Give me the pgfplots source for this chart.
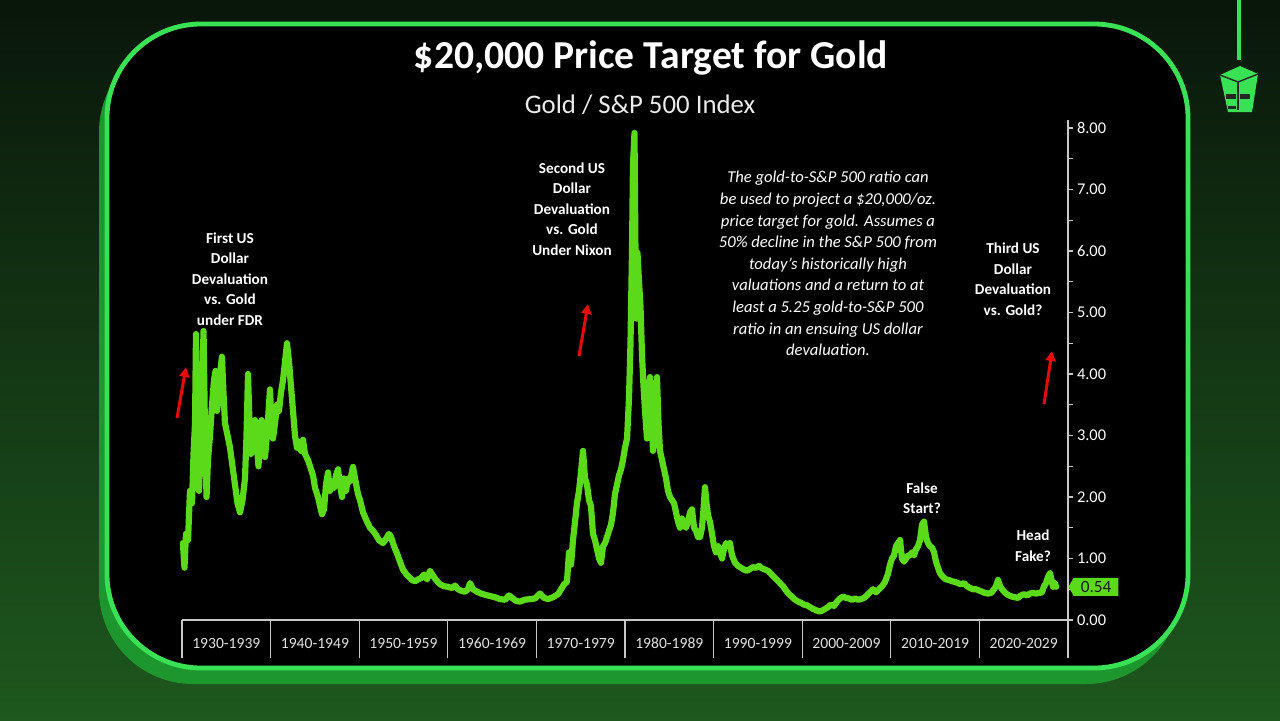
\documentclass[border=0pt]{standalone}
\usepackage{fontspec}
\setmainfont{Carlito}
\usepackage{pgfplots}
\pgfplotsset{compat=1.18}
\usepackage{pgfplotstable}
\usetikzlibrary{arrows.meta,shapes.symbols}

\definecolor{bgtop}{RGB}{9,22,10}
\definecolor{bgbot}{RGB}{30,88,30}
\definecolor{framegreen}{RGB}{57,226,84}
\definecolor{shadowgreen}{RGB}{30,150,46}
\definecolor{linegreen}{RGB}{90,218,24}
\definecolor{axisgray}{RGB}{200,200,200}
\definecolor{labelgray}{RGB}{225,225,225}
\definecolor{arrowred}{RGB}{230,10,10}

\pgfplotstableread{
year val
1930.10 1.25
1930.28 0.85
1930.45 1.40
1930.68 1.30
1930.90 2.10
1931.13 1.90
1931.30 2.70
1931.47 3.20
1931.58 4.65
1931.75 2.40
1931.92 2.10
1932.09 3.00
1932.26 3.60
1932.43 4.70
1932.60 3.00
1932.77 2.00
1932.93 2.60
1933.16 3.00
1933.39 3.50
1933.61 3.90
1933.78 4.05
1933.95 3.40
1934.12 3.60
1934.29 4.00
1934.51 4.28
1934.68 3.70
1934.85 3.20
1935.14 3.00
1935.42 2.80
1935.70 2.50
1935.98 2.20
1936.26 1.90
1936.55 1.75
1936.83 1.95
1937.11 2.30
1937.28 3.00
1937.45 4.00
1937.62 3.20
1937.79 2.70
1938.01 3.00
1938.24 3.25
1938.47 2.80
1938.63 2.50
1938.80 2.90
1938.97 3.25
1939.14 2.90
1939.37 2.65
1939.59 3.00
1939.82 3.50
1939.93 3.75
1940.10 3.20
1940.27 2.95
1940.50 3.20
1940.72 3.50
1940.95 3.40
1941.17 3.70
1941.40 3.90
1941.63 4.20
1941.85 4.50
1942.08 4.20
1942.30 3.80
1942.53 3.40
1942.75 3.00
1942.98 2.80
1943.21 2.90
1943.43 2.75
1943.66 2.93
1943.88 2.70
1944.22 2.60
1944.45 2.50
1944.79 2.35
1945.01 2.15
1945.35 2.00
1945.58 1.85
1945.80 1.72
1946.03 1.80
1946.25 2.20
1946.48 2.40
1946.70 2.10
1946.93 2.25
1947.16 2.15
1947.38 2.35
1947.61 2.45
1947.83 2.20
1948.06 2.00
1948.28 2.30
1948.51 2.10
1948.74 2.30
1948.96 2.25
1949.30 2.49
1949.53 2.30
1949.86 2.05
1950.09 1.95
1950.43 1.75
1950.88 1.60
1951.22 1.50
1951.56 1.45
1951.90 1.38
1952.23 1.30
1952.69 1.25
1953.02 1.32
1953.36 1.40
1953.59 1.35
1953.93 1.20
1954.27 1.08
1954.60 0.95
1954.94 0.82
1955.28 0.75
1955.62 0.70
1955.96 0.65
1956.30 0.63
1956.64 0.66
1956.98 0.68
1957.31 0.74
1957.65 0.66
1957.99 0.80
1958.33 0.72
1958.67 0.65
1959.12 0.58
1959.57 0.55
1960.02 0.54
1960.47 0.52
1960.81 0.56
1961.15 0.50
1961.60 0.47
1961.94 0.46
1962.28 0.50
1962.51 0.60
1962.84 0.50
1963.30 0.46
1963.75 0.43
1964.20 0.41
1964.76 0.39
1965.33 0.37
1965.89 0.34
1966.46 0.33
1966.91 0.40
1967.25 0.36
1967.70 0.31
1968.15 0.30
1968.71 0.33
1969.28 0.34
1969.84 0.35
1970.41 0.43
1970.86 0.36
1971.31 0.34
1971.87 0.37
1972.44 0.42
1972.78 0.50
1973.12 0.58
1973.45 0.62
1973.68 1.10
1973.91 0.90
1974.13 1.30
1974.36 1.60
1974.58 1.90
1974.81 2.10
1975.03 2.40
1975.26 2.75
1975.49 2.30
1975.71 2.20
1975.94 1.95
1976.16 1.85
1976.39 1.40
1976.61 1.30
1976.84 1.15
1977.07 1.00
1977.29 0.93
1977.52 1.20
1977.74 1.25
1977.97 1.35
1978.19 1.45
1978.42 1.55
1978.65 1.75
1978.87 2.05
1979.10 2.20
1979.32 2.35
1979.55 2.45
1979.77 2.60
1980.00 2.80
1980.23 2.95
1980.45 3.60
1980.62 4.50
1980.79 6.00
1980.90 7.40
1981.07 7.92
1981.18 6.00
1981.30 4.90
1981.41 5.97
1981.58 5.50
1981.75 5.10
1981.92 4.30
1982.09 3.80
1982.26 3.40
1982.48 2.95
1982.65 3.50
1982.82 3.95
1982.99 3.40
1983.16 2.75
1983.39 3.20
1983.61 3.95
1983.78 3.20
1983.95 2.75
1984.18 2.60
1984.40 2.45
1984.63 2.30
1984.85 2.10
1985.08 2.00
1985.30 1.95
1985.53 1.90
1985.76 1.75
1985.98 1.60
1986.21 1.50
1986.43 1.65
1986.66 1.55
1986.88 1.50
1987.11 1.60
1987.34 1.75
1987.56 1.80
1987.79 1.50
1988.01 1.45
1988.24 1.35
1988.47 1.35
1988.69 1.50
1988.86 1.80
1989.03 2.16
1989.20 1.90
1989.37 1.70
1989.59 1.60
1989.82 1.40
1990.05 1.20
1990.27 1.10
1990.50 1.20
1990.72 1.10
1990.95 1.00
1991.17 1.15
1991.40 1.25
1991.63 1.20
1991.85 1.25
1992.08 1.05
1992.42 0.93
1992.75 0.88
1993.09 0.85
1993.43 0.82
1993.77 0.80
1994.11 0.83
1994.45 0.86
1994.79 0.85
1995.12 0.88
1995.46 0.84
1995.80 0.82
1996.14 0.80
1996.48 0.75
1996.82 0.70
1997.16 0.65
1997.49 0.60
1997.83 0.55
1998.17 0.48
1998.51 0.42
1998.85 0.38
1999.19 0.33
1999.53 0.30
1999.86 0.28
2000.20 0.25
2000.54 0.24
2000.88 0.21
2001.22 0.18
2001.56 0.16
2001.90 0.14
2002.23 0.15
2002.57 0.18
2002.91 0.21
2003.25 0.25
2003.59 0.23
2003.93 0.30
2004.27 0.35
2004.60 0.38
2004.94 0.36
2005.28 0.35
2005.62 0.33
2005.96 0.35
2006.30 0.33
2006.64 0.34
2006.98 0.36
2007.31 0.40
2007.65 0.45
2007.99 0.50
2008.33 0.45
2008.67 0.50
2009.01 0.55
2009.35 0.62
2009.68 0.75
2009.91 0.90
2010.14 1.00
2010.36 1.05
2010.59 1.20
2010.81 1.25
2011.04 1.30
2011.26 1.00
2011.49 0.95
2011.72 1.00
2011.94 1.05
2012.17 1.05
2012.39 1.10
2012.62 1.05
2012.84 1.15
2013.07 1.20
2013.30 1.30
2013.52 1.55
2013.75 1.60
2013.97 1.35
2014.20 1.25
2014.42 1.20
2014.65 1.18
2014.88 1.10
2015.10 0.95
2015.33 0.85
2015.55 0.76
2015.89 0.70
2016.23 0.66
2016.57 0.65
2016.91 0.63
2017.25 0.62
2017.58 0.60
2017.92 0.58
2018.26 0.60
2018.60 0.55
2018.94 0.52
2019.28 0.50
2019.62 0.50
2019.95 0.48
2020.29 0.46
2020.63 0.44
2020.97 0.43
2021.31 0.44
2021.65 0.50
2021.87 0.55
2022.10 0.65
2022.33 0.55
2022.66 0.48
2023.00 0.43
2023.34 0.40
2023.68 0.38
2024.02 0.37
2024.36 0.36
2024.70 0.40
2025.03 0.42
2025.37 0.40
2025.71 0.43
2026.05 0.44
2026.39 0.43
2026.73 0.44
2027.07 0.45
2027.29 0.55
2027.52 0.60
2027.74 0.70
2027.97 0.76
2028.14 0.65
2028.31 0.54
2028.53 0.60
2028.65 0.54
}\golddata

\begin{document}
\begin{tikzpicture}
\begin{scope}[x=0.5pt,y=0.5pt]
\useasboundingbox (0,0) rectangle (1280,720);
\shade[top color=bgtop,bottom color=bgbot] (0,0) rectangle (1280,720);
\fill[shadowgreen, rounded corners=47pt] (99,36) rectangle (1180,682);
\filldraw[fill=black, draw=framegreen, line width=2.4pt, rounded corners=47pt] (107,52) rectangle (1188,696);
% logo
\draw[framegreen, line width=2pt] (1239,720) -- (1239,660);
\fill[framegreen] (1220,645) -- (1240,654) -- (1258,646) -- (1252,608) -- (1228,608) -- cycle;
\draw[black!85, line width=0.7pt] (1220,645) -- (1238,638) -- (1258,646);
\draw[black!85, line width=0.7pt] (1238,638) -- (1238,610);
\fill[black!85] (1226,626) rectangle (1236,621);
\fill[black!85] (1240,626) rectangle (1250,621);
\fill[black!85] (1228,614) rectangle (1236,611);
\end{scope}

\begin{axis}[
  at={(91pt,50pt)}, anchor=south west,
  scale only axis, width=443pt, height=250pt,
  xmin=1930, xmax=2030, ymin=0, ymax=8.13,
  axis x line*=bottom, axis y line*=right,
  axis line style={draw=axisgray, line width=0.6pt, -},
  ytick={0,1,...,8}, minor ytick={0.5,1.5,...,7.5},
  tick align=outside, major tick length=2.5pt, minor tick length=2.5pt,
  ytick style={draw=axisgray, line width=0.6pt},
  minor tick style={draw=axisgray, line width=0.6pt},
  xtick={1935,1945,...,2025},
  xticklabels={1930-1939,1940-1949,1950-1959,1960-1969,1970-1979,1980-1989,1990-1999,2000-2009,2010-2019,2020-2029},
  xtick style={draw=none},
  xticklabel style={font=\fontsize{7.8}{9}\selectfont, text=labelgray, anchor=center, yshift=-9pt},
  yticklabel style={font=\fontsize{8.2}{9}\selectfont, text=white, inner sep=1pt, xshift=0.8pt,
    /pgf/number format/.cd, fixed, fixed zerofill, precision=2, assume math mode=true},
  clip=false,
]
\addplot[line width=3.1pt, color=linegreen, line join=round, line cap=round, mark=none] table[x=year,y=val]{\golddata};
\addplot[only marks, mark=*, mark size=0pt, mark options={draw=none,fill=none}, point meta=y,
  nodes near coords={\pgfmathprintnumber[fixed,fixed zerofill,precision=2,assume math mode=true]{\pgfplotspointmeta}},
  nodes near coords style={anchor=west, shape=signal, signal to=west, signal pointer angle=120,
    fill=linegreen, text=black!90, font=\fontsize{8.6}{9}\selectfont,
    inner xsep=3pt, inner ysep=1.5pt, minimum height=9pt, minimum width=25pt}]
  coordinates {(2030,0.54)};
\pgfplotsinvokeforeach{1930,1940,1950,1960,1970,1980,1990,2000,2010,2020,2030}{
  \draw[axisgray, line width=0.6pt] (axis cs:#1,0) -- ++(0pt,-19pt);
}
\end{axis}

\begin{scope}[x=0.5pt,y=0.5pt]
\node[text=white, font=\fontsize{19.8}{23}\selectfont\bfseries, anchor=base] at (651,652) {\$20,000 Price Target for Gold};
\node[text=white!92!black, font=\fontsize{13.4}{16}\selectfont, anchor=base] at (640,607) {Gold / S\&P 500 Index};

\node[text=white, align=center, font=\fontsize{7.6}{10.25}\selectfont\bfseries] at (230,441) {First US\\Dollar\\Devaluation\\vs. Gold\\under FDR};
\node[text=white, align=center, font=\fontsize{7.6}{10.25}\selectfont\bfseries] at (572,511) {Second US\\Dollar\\Devaluation\\vs. Gold\\Under Nixon};
\node[text=white, align=center, font=\fontsize{7.6}{10.25}\selectfont\bfseries] at (1013,441) {Third US\\Dollar\\Devaluation\\vs. Gold?};
\node[text=white, align=center, font=\fontsize{7.6}{10.25}\selectfont\bfseries] at (922,222) {False\\Start?};
\node[text=white, align=center, font=\fontsize{7.6}{10.25}\selectfont\bfseries] at (1033,174.5) {Head\\Fake?};

\node[text=white, align=center, font=\fontsize{8.3}{10.8}\selectfont\itshape] at (828,456.5) {The gold-to-S\&P 500 ratio can\\be used to project a \$20,000/oz.\\price target for gold. Assumes a\\50\% decline in the S\&P 500 from\\today’s historically high\\valuations and a return to at\\least a 5.25 gold-to-S\&P 500\\ratio in an ensuing US dollar\\devaluation.};

\draw[arrowred, line width=1.5pt, -{Triangle[length=5pt,width=5pt]}] (177,302) -- (186,353);
\draw[arrowred, line width=1.5pt, -{Triangle[length=5pt,width=5pt]}] (579,364) -- (588,416);
\draw[arrowred, line width=1.5pt, -{Triangle[length=5pt,width=5pt]}] (1044,316) -- (1052,369);
\end{scope}
\end{tikzpicture}
\end{document}
